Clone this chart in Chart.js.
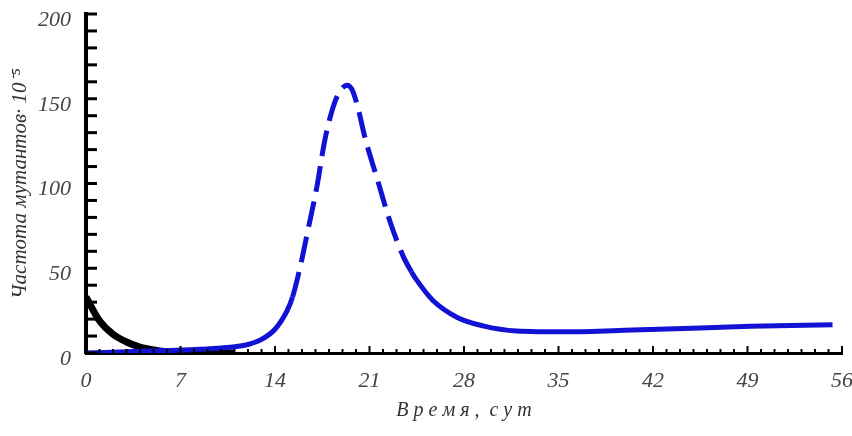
<!DOCTYPE html>
<html>
<head>
<meta charset="utf-8">
<script src="https://cdn.jsdelivr.net/npm/chart.js@4/dist/chart.umd.min.js"></script>
<style>
  html, body { margin: 0; padding: 0; background: #fff; }
  #wrap { width: 852px; height: 436px; }
</style>
</head>
<body>
<div id="wrap"><canvas id="chart"></canvas></div>
<script>
// black curve (decay)
const blackDays = [0, 1, 2, 3, 4, 5, 6, 7, 8, 9, 10, 11];
const blackVals = [33, 19, 11, 6.5, 3.5, 1.8, 0.8, 0.3, 0.1, 0, 0, 0];

// blue curve (peak around day 19)
const blueDays = [0, 2, 4, 6, 8, 10, 11, 12, 13, 14, 14.9, 15.3, 15.9, 16.4, 17.1, 17.7, 18.3, 18.7, 19.0, 19.35, 19.7, 20.1, 20.7, 21.6, 22.5, 23.5, 24.1, 24.5, 25.7, 27.5, 29.4, 31.9, 35.6, 40.5, 45.5, 49.2, 55.3];
const blueVals = [0, 0.5, 1, 1.5, 2, 3, 3.7, 5, 8, 14, 25, 33, 52, 71, 98, 126, 145, 153, 156.5, 158, 155.5, 146, 126, 102, 78, 57, 48, 43, 31, 21, 16, 13, 12.5, 13.5, 14.7, 15.8, 16.7];
const dashedFrom = 15.2, dashedTo = 24.2;

const xTicks = [0, 7, 14, 21, 28, 35, 42, 49, 56];
const yTicks = [0, 50, 100, 150, 200];

const tickFont = { family: "Liberation Serif", style: "italic", size: 22 };

const innerTicks = {
  id: "innerTicks",
  afterDraw(chart) {
    const c = chart.ctx, x = chart.scales.x, y = chart.scales.y;
    c.save();
    c.strokeStyle = "#000";
    c.lineWidth = 3;
    for (let v = 0; v <= 200; v += 10) {
      const py = y.getPixelForValue(v);
      c.beginPath(); c.moveTo(x.left, py); c.lineTo(x.left + 11, py); c.stroke();
    }
    c.lineWidth = 2;
    for (let d = 0; d <= 56; d++) {
      const px = x.getPixelForValue(d);
      const len = d % 7 === 0 ? 7 : 4;
      c.beginPath(); c.moveTo(px, y.bottom); c.lineTo(px, y.bottom - len); c.stroke();
    }
    c.restore();
  }
};

new Chart(document.getElementById("chart"), {
  type: "line",
  data: {
    datasets: [
      {
        data: blueDays.map((d, i) => ({ x: d, y: blueVals[i] })),
        borderColor: "#1212d4",
        borderWidth: 5,
        pointRadius: 0,
        cubicInterpolationMode: "monotone",
        segment: {
          borderDash: ctx => (ctx.p0.parsed.x >= dashedFrom && ctx.p1.parsed.x <= dashedTo) ? [26, 10] : undefined
        }
      },
      {
        data: blackDays.map((d, i) => ({ x: d, y: blackVals[i] })),
        borderColor: "#000",
        borderWidth: 7,
        pointRadius: 0,
        cubicInterpolationMode: "monotone"
      }
    ]
  },
  options: {
    responsive: true,
    maintainAspectRatio: false,
    animation: false,
    layout: { padding: { top: 14, right: 10, left: 0, bottom: 0 } },
    plugins: { legend: { display: false }, tooltip: { enabled: false } },
    scales: {
      x: {
        type: "linear",
        min: 0, max: 56,
        afterFit: s => { s.height = 83; s.paddingLeft = 0; s.paddingRight = 0; },
        afterBuildTicks: s => { s.ticks = xTicks.map(v => ({ value: v })); },
        grid: { display: false, drawTicks: false },
        border: { display: true, color: "#000", width: 3 },
        ticks: { font: tickFont, color: "#444", padding: 15, maxRotation: 0, autoSkip: false },
        title: {
          display: true,
          text: "В р е м я ,  с у т",
          font: { family: "Liberation Serif", style: "italic", size: 20 },
          color: "#333",
          padding: { top: 0, bottom: 13 }
        }
      },
      y: {
        min: 0, max: 200,
        afterFit: s => { s.width = 86; s.paddingTop = 0; s.paddingBottom = 0; },
        afterBuildTicks: s => { s.ticks = yTicks.map(v => ({ value: v })); },
        grid: { display: false, drawTicks: false },
        border: { display: true, color: "#000", width: 4 },
        ticks: { font: tickFont, color: "#444", padding: 15, labelOffset: 6 },
        title: {
          display: true,
          text: "Частота мутантов· 10⁻⁵",
          font: { family: "Liberation Serif", style: "italic", size: 21 },
          color: "#333",
          padding: { top: 8, bottom: 0 }
        }
      }
    }
  },
  plugins: [innerTicks]
});
</script>
</body>
</html>
